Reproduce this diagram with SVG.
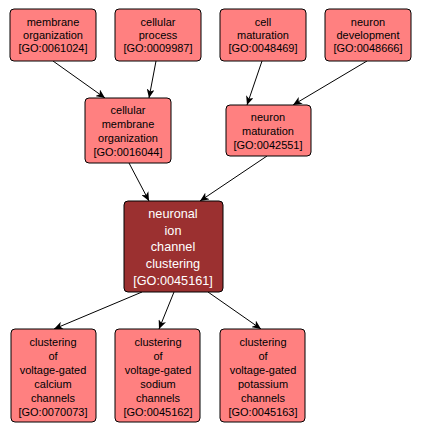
<svg xmlns="http://www.w3.org/2000/svg" width="421" height="433" viewBox="0 0 421 433">
<defs>
<style>
.n rect{fill:#FF8080;stroke:#000;stroke-width:1}
.n text{font-family:"Liberation Sans",Arial,sans-serif;font-size:11px;fill:#000;text-anchor:middle}
.c rect{fill:#9B3030;stroke:#000;stroke-width:1}
.c text{font-family:"Liberation Sans",Arial,sans-serif;font-size:12.7px;fill:#fff;text-anchor:middle}
.e line{stroke:#000;stroke-width:1;marker-end:url(#a)}
</style>
<marker id="a" markerWidth="10" markerHeight="8" refX="9" refY="4" orient="auto" markerUnits="userSpaceOnUse">
<path d="M0,0 L9,4 L0,8 L2.5,4 Z" fill="#000"/>
</marker>
</defs>
<rect width="421" height="433" fill="#fff"/>
<g class="e">
<line x1="53" y1="61" x2="105" y2="98"/>
<line x1="156" y1="61" x2="149" y2="98"/>
<line x1="262" y1="61" x2="247" y2="105"/>
<line x1="367" y1="61" x2="293" y2="105"/>
<line x1="129" y1="163" x2="149" y2="201"/>
<line x1="267" y1="156" x2="200" y2="201"/>
<line x1="142" y1="292" x2="54" y2="329"/>
<line x1="174" y1="292" x2="159" y2="329"/>
<line x1="208" y1="292" x2="261" y2="329"/>
</g>
<g id="GO0061024" class="n"><rect x="10" y="9" width="86" height="52" rx="4"/>
<text x="53" y="26">membrane</text><text x="53" y="39">organization</text><text x="53" y="52">[GO:0061024]</text></g>
<g id="GO0009987" class="n"><rect x="115" y="9" width="86" height="52" rx="4"/>
<text x="158" y="26">cellular</text><text x="158" y="39">process</text><text x="158" y="52">[GO:0009987]</text></g>
<g id="GO0048469" class="n"><rect x="220" y="9" width="86" height="52" rx="4"/>
<text x="263" y="26">cell</text><text x="263" y="39">maturation</text><text x="263" y="52">[GO:0048469]</text></g>
<g id="GO0048666" class="n"><rect x="325" y="9" width="86" height="52" rx="4"/>
<text x="368" y="26">neuron</text><text x="368" y="39">development</text><text x="368" y="52">[GO:0048666]</text></g>
<g id="GO0016044" class="n"><rect x="85" y="98" width="86" height="65" rx="4"/>
<text x="128" y="114">cellular</text><text x="128" y="128">membrane</text><text x="128" y="142">organization</text><text x="128" y="156">[GO:0016044]</text></g>
<g id="GO0042551" class="n"><rect x="226" y="105" width="85" height="51" rx="4"/>
<text x="268" y="121">neuron</text><text x="268" y="135">maturation</text><text x="268" y="149">[GO:0042551]</text></g>
<g id="GO0045161" class="c"><rect x="124" y="201" width="99" height="91" rx="4"/>
<text x="173" y="218">neuronal</text><text x="173" y="235">ion</text><text x="173" y="251">channel</text><text x="173" y="268">clustering</text><text x="173" y="285">[GO:0045161]</text></g>
<g id="GO0070073" class="n"><rect x="11" y="329" width="85" height="93" rx="4"/>
<text x="53" y="346">clustering</text><text x="53" y="360">of</text><text x="53" y="374">voltage-gated</text><text x="53" y="388">calcium</text><text x="53" y="402">channels</text><text x="53" y="416">[GO:0070073]</text></g>
<g id="GO0045162" class="n"><rect x="115" y="329" width="85" height="93" rx="4"/>
<text x="158" y="346">clustering</text><text x="158" y="360">of</text><text x="158" y="374">voltage-gated</text><text x="158" y="388">sodium</text><text x="158" y="402">channels</text><text x="158" y="416">[GO:0045162]</text></g>
<g id="GO0045163" class="n"><rect x="220" y="329" width="85" height="93" rx="4"/>
<text x="263" y="346">clustering</text><text x="263" y="360">of</text><text x="263" y="374">voltage-gated</text><text x="263" y="388">potassium</text><text x="263" y="402">channels</text><text x="263" y="416">[GO:0045163]</text></g>
</svg>
